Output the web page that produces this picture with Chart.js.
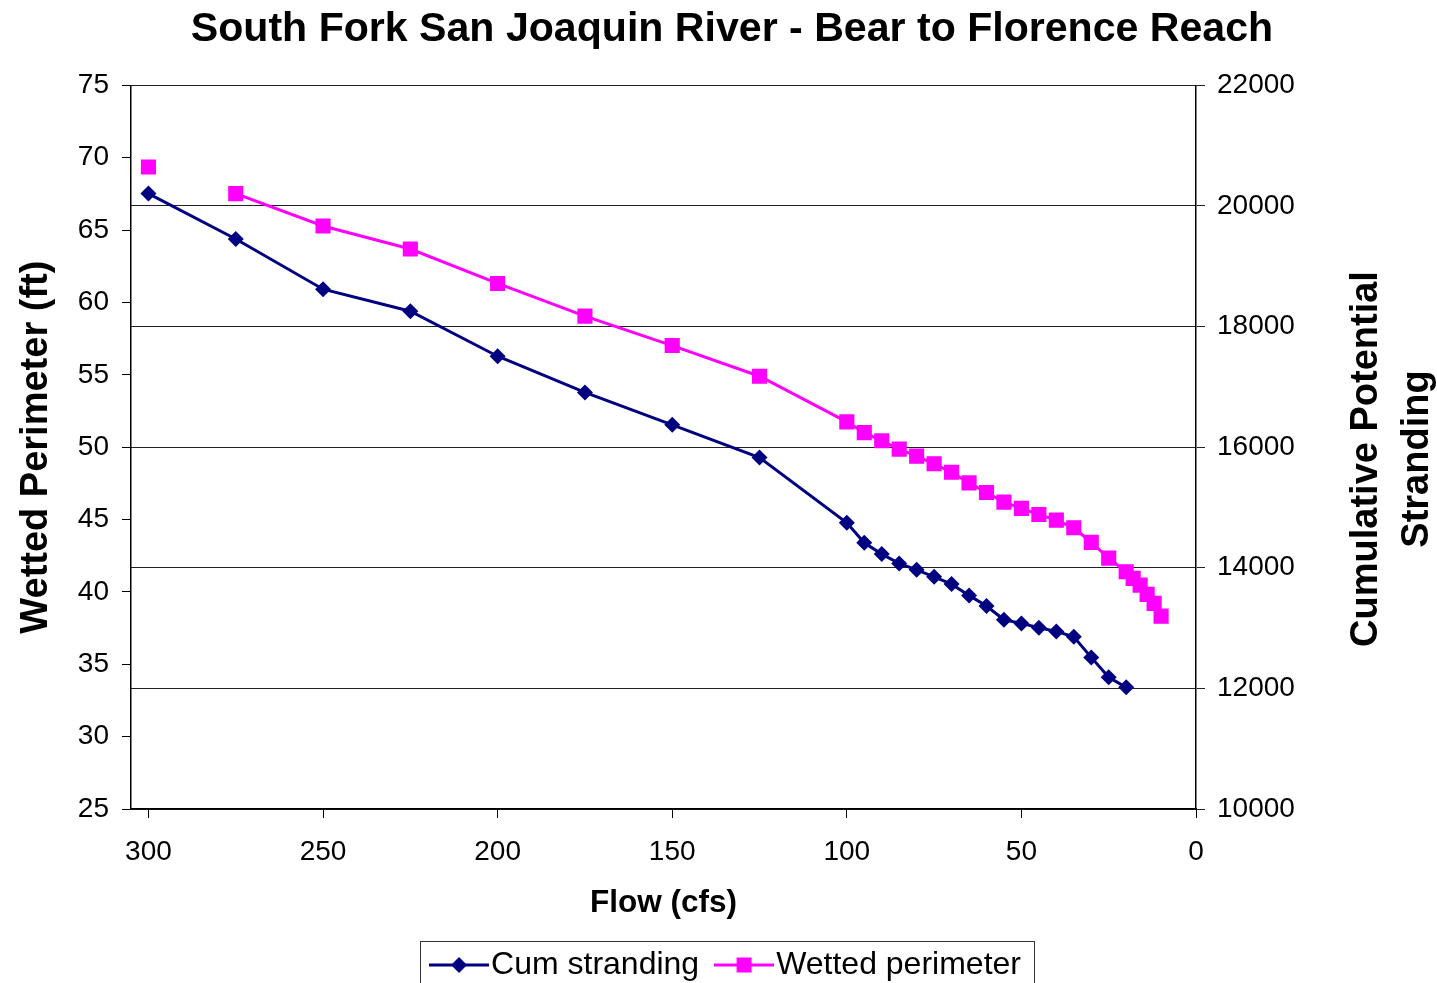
<!DOCTYPE html>
<html>
<head>
<meta charset="utf-8">
<script src="https://cdn.jsdelivr.net/npm/chart.js@4.4.1/dist/chart.umd.min.js"></script>
<style>
  html, body { margin: 0; padding: 0; background: #fff; overflow: hidden; }
  canvas { display: block; }
</style>
</head>
<body>
<canvas id="c" width="1437" height="991"></canvas>
<script>
// ---- data ----
const chartTitle = 'South Fork San Joaquin River - Bear to Florence Reach';
const xTitle = 'Flow (cfs)';
const yLeftTitle = 'Wetted Perimeter (ft)';
const yRightTitle = ['Cumulative Potential', 'Stranding'];
const seriesNames = ['Cum stranding', 'Wetted perimeter'];

const flowCum = [300, 275, 250, 225, 200, 175, 150, 125, 100, 95, 90, 85, 80, 75, 70, 65, 60, 55, 50, 45, 40, 35, 30, 25, 20];
const cumStranding = [20205, 19452, 18619, 18254, 17508, 16907, 16370, 15829, 14745, 14414, 14227, 14072, 13966, 13850, 13729, 13542, 13365, 13138, 13078, 13005, 12945, 12856, 12514, 12183, 12017];

const flowWp = [300, 275, 250, 225, 200, 175, 150, 125, 100, 95, 90, 85, 80, 75, 70, 65, 60, 55, 50, 45, 40, 35, 30, 25, 20, 18, 16, 14, 12, 10];
const wettedPerimeter = [69.36, 67.52, 65.28, 63.69, 61.31, 59.05, 57.02, 54.9, 51.75, 51.0, 50.44, 49.86, 49.38, 48.85, 48.27, 47.53, 46.87, 46.2, 45.77, 45.35, 44.96, 44.43, 43.42, 42.33, 41.39, 40.93, 40.47, 39.83, 39.21, 38.33];
const wpUnconnectedSegments = [0]; // no line drawn between the 300 and 275 points

const xTicks = [0, 50, 100, 150, 200, 250, 300];
const xMin = 0, xMax = 305;
const yLeftMin = 25, yLeftMax = 75, yLeftStep = 5;
const yRightMin = 10000, yRightMax = 22000, yRightStep = 2000;

// ---- styles ----
const NAVY = '#000080';
const MAGENTA = '#FF00FF';
const FONT = '"Liberation Sans", Arial, Helvetica, sans-serif';
Chart.defaults.font.family = FONT;
Chart.defaults.color = '#000';

function makeIcon(color, marker) {
  const c = document.createElement('canvas');
  c.width = 60; c.height = 32;
  const g = c.getContext('2d');
  g.strokeStyle = color; g.lineWidth = 3;
  g.beginPath(); g.moveTo(0, 16); g.lineTo(60, 16); g.stroke();
  g.fillStyle = color;
  g.beginPath();
  if (marker === 'diamond') {
    g.moveTo(30, 8); g.lineTo(38, 16); g.lineTo(30, 24); g.lineTo(22, 16); g.closePath();
  } else {
    g.rect(22.5, 8.5, 15, 15);
  }
  g.fill();
  return c;
}
const legendIcons = [makeIcon(NAVY, 'diamond'), makeIcon(MAGENTA, 'square')];

const extras = {
  id: 'extras',
  afterDraw(chart) {
    const ctx = chart.ctx;
    // right axis title, reading bottom-to-top
    ctx.save();
    ctx.fillStyle = '#000';
    ctx.font = 'bold 38px ' + FONT;
    ctx.textAlign = 'center';
    ctx.textBaseline = 'middle';
    const cy = 459;
    const xs = [1367, 1418];
    yRightTitle.forEach((t, i) => {
      ctx.save();
      ctx.translate(xs[i], cy);
      ctx.rotate(-Math.PI / 2);
      ctx.fillText(t, 0, 0);
      ctx.restore();
    });
    ctx.restore();
    // legend frame
    const lg = chart.legend;
    if (lg && lg.legendHitBoxes && lg.legendHitBoxes.length) {
      const hb = lg.legendHitBoxes;
      const first = hb[0], last = hb[hb.length - 1];
      const cyL = first.top + first.height / 2;
      const left = first.left - 14 - 9;
      const right = last.left + last.width + 13;
      ctx.save();
      ctx.strokeStyle = '#333';
      ctx.lineWidth = 1;
      ctx.strokeRect(Math.round(left) + 0.5, Math.round(cyL - 24) + 0.5, Math.round(right - left), 60);
      ctx.restore();
    }
  }
};

new Chart(document.getElementById('c'), {
  type: 'line',
  data: {
    datasets: [
      {
        label: seriesNames[0],
        data: flowCum.map((x, i) => ({ x, y: cumStranding[i] })),
        yAxisID: 'y2',
        borderColor: NAVY,
        backgroundColor: NAVY,
        borderWidth: 3,
        pointStyle: 'rectRot',
        pointRadius: 8,
        pointHoverRadius: 8,
        pointBackgroundColor: NAVY,
        pointBorderColor: NAVY,
        pointBorderWidth: 0,
        tension: 0,
        fill: false
      },
      {
        label: seriesNames[1],
        data: flowWp.map((x, i) => ({ x, y: wettedPerimeter[i] })),
        yAxisID: 'y',
        borderColor: MAGENTA,
        backgroundColor: MAGENTA,
        borderWidth: 3,
        pointStyle: 'rect',
        pointRadius: 10.7,
        pointHoverRadius: 10.7,
        pointBackgroundColor: MAGENTA,
        pointBorderColor: MAGENTA,
        pointBorderWidth: 0,
        tension: 0,
        fill: false,
        segment: {
          borderColor: c => wpUnconnectedSegments.includes(c.p0DataIndex) ? 'rgba(0,0,0,0)' : MAGENTA
        }
      }
    ]
  },
  options: {
    responsive: false,
    animation: false,
    devicePixelRatio: 1,
    layout: { padding: { left: 27, right: 0, top: 0, bottom: 0 } },
    plugins: {
      title: {
        display: true,
        text: chartTitle,
        color: '#000',
        font: { size: 41.1, weight: 'bold', lineHeight: 1.2 },
        padding: { top: 5, bottom: 31 }
      },
      legend: {
        display: true,
        position: 'bottom',
        labels: {
          color: '#000',
          font: { size: 32 },
          usePointStyle: true,
          pointStyleWidth: 32,
          padding: 29,
          generateLabels(chart) {
            const items = Chart.defaults.plugins.legend.labels.generateLabels(chart);
            items.forEach((it, i) => { it.pointStyle = legendIcons[i]; it.lineWidth = 0; });
            return items;
          }
        }
      },
      tooltip: { enabled: false }
    },
    scales: {
      x: {
        type: 'linear',
        min: xMin,
        max: xMax,
        reverse: true,
        afterBuildTicks: s => { s.ticks = xTicks.map(v => ({ value: v })); },
        afterFit: s => { s.height = 111; },
        grid: { drawOnChartArea: false, drawTicks: true, tickLength: 9, color: '#000', lineWidth: 1 },
        border: { display: true, color: '#000', width: 1.5 },
        ticks: { font: { size: 28 }, color: '#000', padding: 17, maxRotation: 0, autoSkip: false },
        title: {
          display: true, text: xTitle, color: '#000',
          font: { size: 31.5, weight: 'bold', lineHeight: 1.2 },
          padding: { top: 0, bottom: -2 }
        }
      },
      y: {
        type: 'linear',
        position: 'left',
        min: yLeftMin,
        max: yLeftMax,
        afterFit: s => { s.width = 104; },
        grid: { drawOnChartArea: false, drawTicks: true, tickLength: 9, color: '#000' },
        border: { display: true, color: '#000', width: 1.5 },
        ticks: { stepSize: yLeftStep, font: { size: 28 }, color: '#000', padding: 13 },
        title: {
          display: true, text: yLeftTitle, color: '#000',
          font: { size: 38, weight: 'bold', lineHeight: 1 },
          padding: { top: -9, bottom: 0 }
        }
      },
      y2: {
        type: 'linear',
        position: 'right',
        min: yRightMin,
        max: yRightMax,
        afterFit: s => { s.width = 241; },
        grid: { drawOnChartArea: true, drawTicks: true, tickLength: 9, color: '#222', lineWidth: 1 },
        border: { display: true, color: '#000', width: 1.5 },
        ticks: { stepSize: yRightStep, font: { size: 28 }, color: '#000', padding: 12, callback: v => String(v) }
      }
    }
  },
  plugins: [extras]
});
</script>
</body>
</html>
